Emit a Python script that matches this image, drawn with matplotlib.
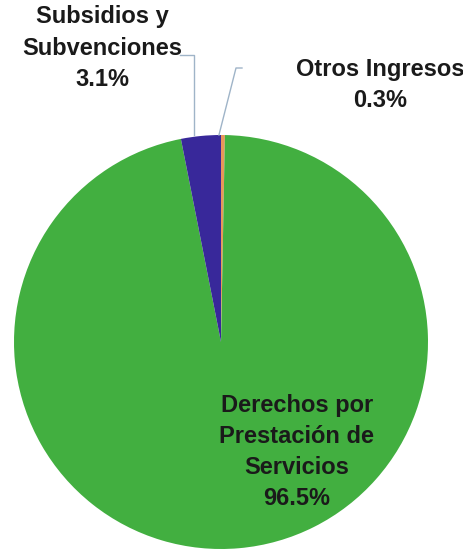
import matplotlib.pyplot as plt
import numpy as np

labels = ["Otros Ingresos", "Derechos por\nPrestación de\nServicios", "Subsidios y\nSubvenciones"]
values = [0.3, 96.5, 3.1]
colors = ["#e8965a", "#42af40", "#38289a"]

W, H = 464, 556
fig = plt.figure(figsize=(W / 100, H / 100), dpi=100)
ax = fig.add_axes([0, 0, 1, 1])

cx, cy, r = 221, H - 342, 207
start = 90
wedges, _ = ax.pie(values, colors=colors, startangle=start, counterclock=False,
                   center=(cx, cy), radius=r, frame=True,
                   wedgeprops=dict(linewidth=0))
ax.set_xlim(0, W)
ax.set_ylim(0, H)
ax.set_aspect("equal")
ax.axis("off")

font = dict(family=["Liberation Sans Narrow", "Liberation Sans", "DejaVu Sans"],
            fontsize=17, fontweight="bold", color="#1a1a1a", ha="center", va="center",
            linespacing=1.45)

def rim(w, k=1.0):
    a = np.deg2rad((w.theta1 + w.theta2) / 2)
    return cx + k * r * np.cos(a), cy + k * r * np.sin(a)

line_c = "#9fb4c8"
# Subsidios y Subvenciones
ax.text(102, H - 48, labels[2] + "\n%.1f%%" % values[2], **font)
ax.plot([180, 194, 194], [H - 55, H - 55, H - 135], color=line_c, lw=1)
# Otros Ingresos
ax.text(380, H - 85, labels[0] + "\n%.1f%%" % values[0], **font)
px, py = rim(wedges[0], 1.0)
ax.plot([242, 236, px - 4], [H - 68, H - 68, py], color=line_c, lw=1)
# Derechos
ax.text(297, H - 452, labels[1] + "\n%.1f%%" % values[1], **font)

fig.savefig("out.png", dpi=100)
